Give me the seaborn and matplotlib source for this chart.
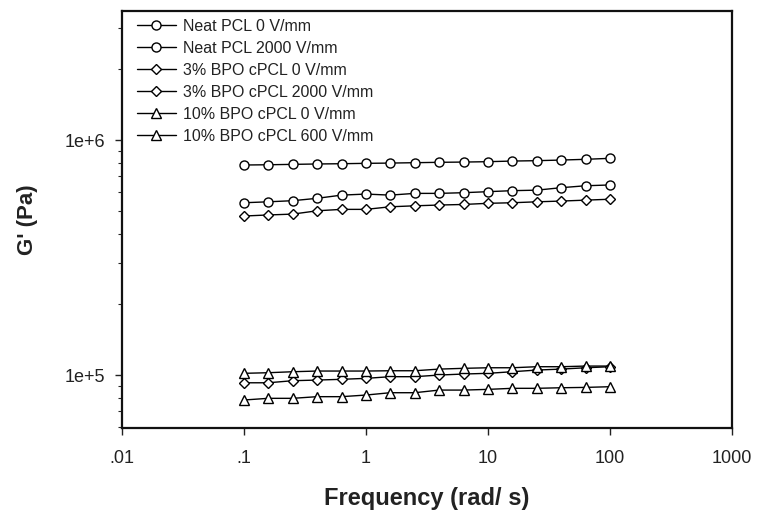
import numpy as np
import pandas as pd
import matplotlib
matplotlib.use("Agg")
import matplotlib.pyplot as plt
import seaborn as sns
from matplotlib.ticker import FixedLocator, FixedFormatter, LogLocator, NullFormatter, NullLocator

sns.set_style("ticks")
plt.rcParams['font.family'] = ['Liberation Sans', 'DejaVu Sans']

freq = [0.1, 0.158, 0.251, 0.398, 0.631, 1.0, 1.58, 2.51, 3.98, 6.31,
        10.0, 15.8, 25.1, 39.8, 63.1, 100.0]

neat_0 = [7.83e5, 7.85e5, 7.88e5, 7.91e5, 7.93e5, 7.96e5, 7.98e5, 8.01e5,
          8.04e5, 8.06e5, 8.09e5, 8.14e5, 8.17e5, 8.22e5, 8.28e5, 8.36e5]
neat_2000 = [5.41e5, 5.46e5, 5.52e5, 5.65e5, 5.83e5, 5.89e5, 5.83e5, 5.93e5,
             5.93e5, 5.97e5, 6.03e5, 6.09e5, 6.12e5, 6.27e5, 6.39e5, 6.44e5]
bpo3_0 = [4.75e5, 4.80e5, 4.84e5, 5.00e5, 5.07e5, 5.07e5, 5.20e5, 5.25e5,
          5.29e5, 5.32e5, 5.38e5, 5.41e5, 5.46e5, 5.50e5, 5.55e5, 5.60e5]
bpo3_2000 = [0.927e5, 0.927e5, 0.946e5, 0.952e5, 0.959e5, 0.968e5, 0.984e5, 0.984e5,
             1.000e5, 1.010e5, 1.017e5, 1.033e5, 1.050e5, 1.060e5, 1.074e5, 1.085e5]
bpo10_0 = [1.017e5, 1.023e5, 1.033e5, 1.040e5, 1.040e5, 1.040e5, 1.043e5, 1.043e5,
           1.060e5, 1.068e5, 1.074e5, 1.074e5, 1.085e5, 1.085e5, 1.092e5, 1.092e5]
bpo10_600 = [0.783e5, 0.796e5, 0.796e5, 0.809e5, 0.809e5, 0.822e5, 0.841e5, 0.841e5,
             0.863e5, 0.863e5, 0.869e5, 0.878e5, 0.878e5, 0.883e5, 0.886e5, 0.892e5]

series_names = ["Neat PCL 0 V/mm", "Neat PCL 2000 V/mm", "3% BPO cPCL 0 V/mm",
                "3% BPO cPCL 2000 V/mm", "10% BPO cPCL 0 V/mm", "10% BPO cPCL 600 V/mm"]
series_values = [neat_0, neat_2000, bpo3_0, bpo3_2000, bpo10_0, bpo10_600]
series_markers = ["o", "o", "D", "D", "^", "^"]

x_ticks = [0.01, 0.1, 1, 10, 100, 1000]
x_tick_labels = [".01", ".1", "1", "10", "100", "1000"]
y_ticks = [1e5, 1e6]
y_tick_labels = ["1e+5", "1e+6"]

df = pd.DataFrame({
    "freq": np.tile(freq, len(series_names)),
    "G": np.concatenate(series_values),
    "series": np.repeat(series_names, len(freq)),
})

fig = plt.figure(figsize=(7.57, 5.12), dpi=100)
ax = fig.add_axes([0.161, 0.164, 0.806, 0.815])

sns.lineplot(data=df, x="freq", y="G", hue="series", style="series",
             hue_order=series_names, style_order=series_names,
             palette=["black"] * 6, markers=dict(zip(series_names, series_markers)),
             dashes=False, markerfacecolor="white", markeredgecolor="black",
             markeredgewidth=1.0, markersize=6.5, linewidth=1.0, ax=ax)
for line in ax.get_lines():
    if line.get_marker() == "D":
        line.set_markersize(5.5)

ax.set_xscale("log")
ax.set_yscale("log")
ax.set_xlim(0.01, 1000)
ax.set_ylim(5.95e4, 3.55e6)

ax.xaxis.set_major_locator(FixedLocator(x_ticks))
ax.xaxis.set_major_formatter(FixedFormatter(x_tick_labels))
ax.xaxis.set_minor_locator(NullLocator())
ax.yaxis.set_major_locator(FixedLocator(y_ticks))
ax.yaxis.set_major_formatter(FixedFormatter(y_tick_labels))
ax.yaxis.set_minor_locator(LogLocator(base=10, subs=np.arange(2, 10)))
ax.yaxis.set_minor_formatter(NullFormatter())

ax.tick_params(axis="both", which="major", direction="out", length=5, width=1.0,
               labelsize=13, colors="#222222")
ax.tick_params(axis="x", which="major", pad=11)
ax.tick_params(axis="y", which="major", pad=7)
ax.tick_params(axis="y", which="minor", direction="out", length=3, width=0.8)

for s in ax.spines.values():
    s.set_linewidth(1.6)
    s.set_color("#111111")

ax.set_xlabel("Frequency (rad/ s)", fontsize=17, fontweight="bold", labelpad=14,
              color="#222222")
ax.set_ylabel("G' (Pa)", fontsize=16, fontweight="bold", labelpad=19,
              color="#222222")

handles, labels = ax.get_legend_handles_labels()
ax.legend(handles, labels, loc="upper left", frameon=False, fontsize=11.5,
          handlelength=2.4, handletextpad=0.45, labelspacing=0.44,
          borderaxespad=0.1, bbox_to_anchor=(0.012, 1.0), labelcolor="#222222")

fig.savefig("out.png", dpi=100)
